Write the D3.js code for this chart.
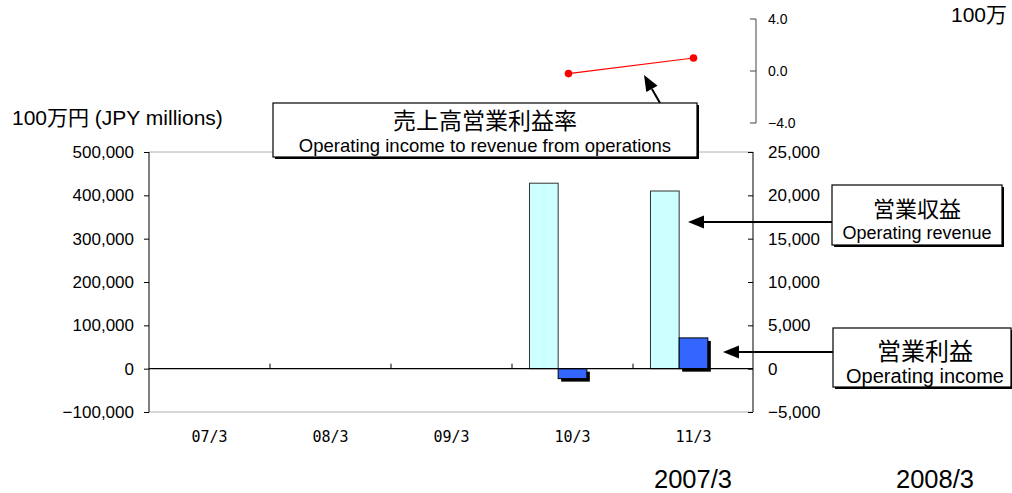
<!DOCTYPE html>
<html>
<head>
<meta charset="utf-8">
<script src="https://d3js.org/d3.v7.min.js"></script>
<style>
  html, body { margin: 0; padding: 0; background: #fff; }
  svg { display: block; }
  text { font-family: "Liberation Sans", Arial, "Noto Sans CJK JP", sans-serif; fill: #000; }
  .jp { font-family: "Noto Sans CJK JP", "Liberation Sans", sans-serif; }
  .mono { font-family: "DejaVu Sans Mono", monospace; }
</style>
</head>
<body>
<svg id="chart" width="1012" height="493"></svg>
<script>
// ---- data ----
const categories = ["07/3", "08/3", "09/3", "10/3", "11/3"];
const seriesKeys = ["revenue", "income", "ratio"];
const revenue = [null, null, null, 428000, 410000];       // 営業収益 (JPY millions)
const income = [null, null, null, -23000, 71000];         // 営業利益 (JPY millions)
const ratio = [null, null, null, -0.2, 1.0];              // 売上高営業利益率
const leftTicks = [-100000, 0, 100000, 200000, 300000, 400000, 500000];
const rightTicks = [-5000, 0, 5000, 10000, 15000, 20000, 25000];
const ratioTicks = [-4, 0, 4];
const bottomLabels = ["2007/3", "2008/3"];

const svg = d3.select("#chart");

// ---- scales ----
const x0 = d3.scaleBand().domain(categories).range([149, 754]).padding(0);
const x1 = d3.scaleBand().domain(seriesKeys).range([0, x0.bandwidth()]).paddingInner(0).paddingOuter(0.61);
const yL = d3.scaleLinear().domain([-100000, 500000]).range([412, 152]);
const yR = d3.scaleLinear().domain([-5000, 25000]).range([412, 152]);
const xR = d3.scaleBand().domain(categories).range([131, 756]).padding(0);
const yRatio = d3.scaleLinear().domain([-4, 4]).range([123, 19]);

const fmt = d3.format(",");
const fmtMinus = v => (v < 0 ? "\u2212" + fmt(-v) : fmt(v));

// ---- plot frame ----
svg.append("line").attr("x1", 149).attr("x2", 753).attr("y1", yL(500000)).attr("y2", yL(500000))
  .attr("stroke", "#b0b0b0").attr("stroke-width", 1);
svg.append("line").attr("x1", 149).attr("x2", 753).attr("y1", yL(-100000)).attr("y2", yL(-100000))
  .attr("stroke", "#b0b0b0").attr("stroke-width", 1);

// left axis
const gL = svg.append("g").attr("transform", "translate(149,0)")
  .call(d3.axisLeft(yL).tickValues(leftTicks).tickSize(5).tickFormat(fmtMinus));
gL.select(".domain").attr("stroke", "#000").attr("d", `M0,${yL(500000)}V${yL(-100000)}`);
gL.selectAll(".tick line").attr("stroke", "#000");
gL.selectAll(".tick text").attr("font-size", 17).attr("x", -15)
  .style("font-family", "'Liberation Sans', Arial, sans-serif").attr("fill", "#000");

// right axis
const gR = svg.append("g").attr("transform", "translate(753,0)")
  .call(d3.axisLeft(yR).tickValues(rightTicks).tickSize(5).tickFormat(fmtMinus));
gR.select(".domain").attr("stroke", "#000").attr("d", `M0,${yR(25000)}V${yR(-5000)}`);
gR.selectAll(".tick line").attr("stroke", "#000");
gR.selectAll(".tick text").attr("font-size", 17).attr("x", 15).attr("text-anchor", "start")
  .style("font-family", "'Liberation Sans', Arial, sans-serif").attr("fill", "#000");

// ---- bars ----
const rows = categories.map((c, i) => ({ cat: c, revenue: revenue[i], income: income[i] }));

// revenue bars
svg.append("g").selectAll("rect").data(rows.filter(d => d.revenue != null)).join("rect")
  .attr("x", d => x0(d.cat) + x1("revenue"))
  .attr("width", x1.bandwidth())
  .attr("y", d => yL(Math.max(0, d.revenue)))
  .attr("height", d => Math.abs(yL(d.revenue) - yL(0)))
  .attr("fill", "#ccffff").attr("stroke", "#333").attr("stroke-width", 1);

// income bar shadows
const incRows = rows.filter(d => d.income != null);
svg.append("g").selectAll("rect").data(incRows).join("rect")
  .attr("x", d => x0(d.cat) + x1("income") + 3)
  .attr("width", x1.bandwidth())
  .attr("y", d => yL(Math.max(0, d.income)) + 3)
  .attr("height", d => Math.abs(yL(d.income) - yL(0)))
  .attr("fill", "#000");
svg.append("g").selectAll("rect").data(incRows).join("rect")
  .attr("x", d => x0(d.cat) + x1("income"))
  .attr("width", x1.bandwidth())
  .attr("y", d => yL(Math.max(0, d.income)))
  .attr("height", d => Math.abs(yL(d.income) - yL(0)))
  .attr("fill", "#3366ff").attr("stroke", "#000").attr("stroke-width", 1);

// zero line + category ticks
svg.append("line").attr("x1", 149).attr("x2", 753).attr("y1", yL(0)).attr("y2", yL(0))
  .attr("stroke", "#000").attr("stroke-width", 1.3);
svg.append("g").selectAll("line").data(categories.slice(1)).join("line")
  .attr("x1", d => x0(d)).attr("x2", d => x0(d))
  .attr("y1", yL(0)).attr("y2", yL(0) - 5)
  .attr("stroke", "#000").attr("stroke-width", 1);

// category labels
svg.append("g").selectAll("text").data(categories).join("text")
  .attr("class", "mono")
  .attr("x", d => x0(d) + x0.bandwidth() / 2)
  .attr("y", 442)
  .attr("text-anchor", "middle")
  .attr("font-size", 15)
  .text(d => d);

// ---- ratio mini chart ----
svg.append("line").attr("x1", 756).attr("x2", 756).attr("y1", yRatio(4)).attr("y2", yRatio(-4))
  .attr("stroke", "#444").attr("stroke-width", 1);
svg.append("g").selectAll("line").data(ratioTicks).join("line")
  .attr("x1", 750).attr("x2", 756).attr("y1", d => yRatio(d)).attr("y2", d => yRatio(d))
  .attr("stroke", "#444");
svg.append("g").selectAll("text").data(ratioTicks).join("text")
  .attr("x", 768).attr("y", d => yRatio(d) + 5)
  .attr("font-size", 14)
  .text(d => (d < 0 ? "\u2212" : "") + Math.abs(d).toFixed(1));

const ratioPts = categories.map((c, i) => ({ cat: c, v: ratio[i] })).filter(d => d.v != null);
svg.append("path").datum(ratioPts)
  .attr("d", d3.line().x(d => xR(d.cat) + xR.bandwidth() / 2).y(d => yRatio(d.v)))
  .attr("fill", "none").attr("stroke", "#ff0000").attr("stroke-width", 1.2);
svg.append("g").selectAll("circle").data(ratioPts).join("circle")
  .attr("cx", d => xR(d.cat) + xR.bandwidth() / 2).attr("cy", d => yRatio(d.v))
  .attr("r", 3.8).attr("fill", "#ff0000");

// ---- texts ----
svg.append("text").attr("x", 12).attr("y", 125).attr("font-size", 21).text("100万円 (JPY millions)");
svg.append("text").attr("x", 951).attr("y", 22).attr("font-size", 21).text("100万");
svg.append("g").selectAll("text").data(bottomLabels).join("text")
  .attr("x", (d, i) => [693, 935][i]).attr("y", 488)
  .attr("text-anchor", "middle").attr("font-size", 25.5).text(d => d);

// ---- annotation boxes & arrows ----
function arrow(x1, y1, x2, y2) {
  const ang = Math.atan2(y2 - y1, x2 - x1);
  const len = 16, hw = 6.5;
  const bx = x2 - len * Math.cos(ang), by = y2 - len * Math.sin(ang);
  svg.append("line").attr("x1", x1).attr("y1", y1).attr("x2", bx).attr("y2", by)
    .attr("stroke", "#000").attr("stroke-width", 2);
  const px = -Math.sin(ang) * hw, py = Math.cos(ang) * hw;
  svg.append("path")
    .attr("d", `M${x2},${y2}L${bx + px},${by + py}L${bx - px},${by - py}Z`)
    .attr("fill", "#000");
}
function box(x, y, w, h, jp, en, cx, jpY, enY, jpSize, enSize) {
  svg.append("rect").attr("x", x + 2).attr("y", y + 2).attr("width", w).attr("height", h).attr("fill", "#000");
  svg.append("rect").attr("x", x).attr("y", y).attr("width", w).attr("height", h)
    .attr("fill", "#fff").attr("stroke", "#000").attr("stroke-width", 1.2);
  svg.append("text").attr("class", "jp").attr("x", cx).attr("y", jpY).attr("text-anchor", "middle")
    .attr("font-size", jpSize).text(jp);
  svg.append("text").attr("x", cx).attr("y", enY).attr("text-anchor", "middle")
    .attr("font-size", enSize).text(en);
}

arrow(660, 103, 644, 75);
box(273, 103, 424, 54, "売上高営業利益率", "Operating income to revenue from operations", 485, 129, 152, 23, 18.5);

arrow(832, 222, 688, 222);
box(832, 185, 170, 60, "営業収益", "Operating revenue", 917, 217, 239, 22, 18);

arrow(833, 352, 723, 352);
box(833, 328, 178, 59, "営業利益", "Operating income", 925, 360, 383, 24, 20);
</script>
</body>
</html>
